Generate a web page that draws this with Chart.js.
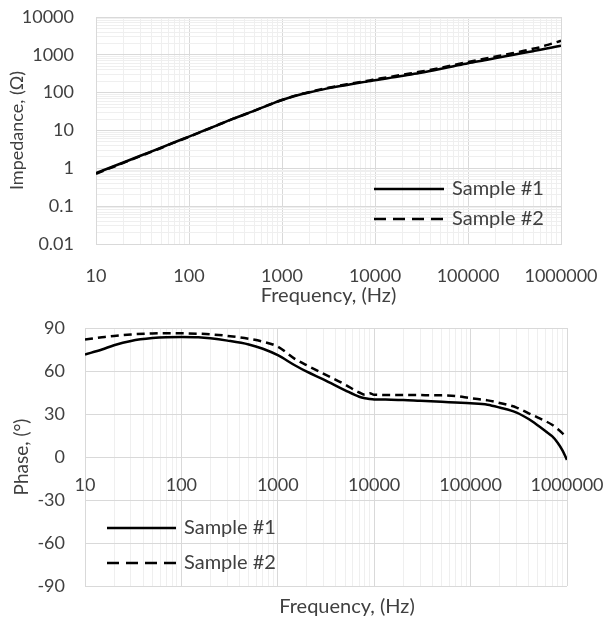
<!DOCTYPE html>
<html>
<head>
<meta charset="utf-8">
<script src="https://cdn.jsdelivr.net/npm/chart.js@4"></script>
<style>
  body { margin: 0; background: #fff; }
  .box { position: absolute; left: 0; }
</style>
</head>
<body>
<div class="box" style="top:0"><canvas id="impChart" width="604" height="310"></canvas></div>
<div class="box" style="top:305px"><canvas id="phaseChart" width="604" height="318"></canvas></div>
<script>
// frequencies in Hz
var freq = [10, 15, 20, 30, 50, 70, 100, 150, 200, 300, 500, 700, 1000, 1500, 2000, 3000, 5000, 7000, 8000, 9000,
            10000, 15000, 20000, 30000, 50000, 70000, 100000, 150000, 200000, 300000, 400000, 500000,
            600000, 700000, 800000, 900000, 1000000];

// impedance, ohm
var imp1 = [0.75, 1.1, 1.45, 2.15, 3.5, 4.9, 6.9, 10.3, 13.7, 20.5, 33, 46, 64, 87, 103, 128, 160, 185, 195, 204,
            213, 250, 280, 330, 420, 500, 600, 720, 820, 990, 1130, 1250, 1360, 1470, 1570, 1660, 1750];
var imp2 = [0.72, 1.07, 1.42, 2.1, 3.45, 4.85, 6.8, 10.2, 13.6, 20.5, 33, 46, 64, 88, 105, 131, 166, 192, 203, 213,
            225, 265, 300, 355, 450, 540, 650, 790, 900, 1100, 1280, 1450, 1590, 1800, 1980, 2170, 2350];

// phase, degrees
var phase1 = [71.5, 75, 78, 81, 83, 83.6, 83.7, 83.5, 82.8, 81.2, 78.5, 75.5, 71, 64, 59.5, 54, 46.5, 42, 41, 40.5,
              40.2, 40, 39.8, 39.2, 38.5, 38, 37.5, 36.5, 34.5, 31, 26.5, 22, 18, 14.5, 10, 4.5, -2];
var phase2 = [82, 83.5, 84.5, 85.5, 86.2, 86.4, 86.3, 86, 85.6, 84.5, 82.5, 80.5, 77, 68.5, 64, 58, 50.5, 45, 43.5, 44.5,
              43.4, 43.3, 43.3, 43.2, 43, 42.6, 41, 39.5, 37.7, 34.5, 30.5, 27.5, 25, 22.5, 19.5, 16.5, 13.5];

var names = ['Sample #1', 'Sample #2'];
var xTitle = 'Frequency, (Hz)';
var impTitle = 'Impedance, (\u03A9)';
var phaseTitle = 'Phase, (\u00B0)';

var textColor = '#404040';
var fontFamily = 'Lato, "Open Sans", sans-serif';
Chart.defaults.font.family = fontFamily;
Chart.defaults.font.size = 18;
Chart.defaults.color = textColor;

function pairs(ys) {
  return freq.map(function (f, i) { return { x: f, y: ys[i] }; });
}

function isPow10(v) {
  var l = Math.log10(v);
  return Math.abs(l - Math.round(l)) < 1e-9;
}

// ticks at 1..9 x 10^n, labels only on decades
function logTicks(scale) {
  var ticks = [];
  var lo = Math.round(Math.log10(scale.min)), hi = Math.round(Math.log10(scale.max));
  for (var e = lo; e <= hi; e++) {
    for (var m = 1; m <= 9; m++) {
      if (e === hi && m > 1) break;
      var v = parseFloat((m * Math.pow(10, e)).toPrecision(6));
      ticks.push({ value: v, major: m === 1 });
    }
  }
  scale.ticks = ticks;
}

function tickLabel(v) {
  return isPow10(v) ? String(v) : '';
}

function gridColor(c) {
  return c.tick && isPow10(c.tick.value) ? '#d9d9d9' : '#efefef';
}

// fixed axis size, and no extra padding pushed onto the chart area
function fixSize(w, h) {
  return function (s) {
    if (w != null) s.width = w;
    if (h != null) s.height = h;
    s.paddingTop = s.paddingBottom = s.paddingLeft = s.paddingRight = 0;
  };
}

function dataset(label, ys, dashed) {
  return {
    label: label,
    data: pairs(ys),
    borderColor: '#000',
    backgroundColor: '#000',
    borderWidth: 2.5,
    borderDash: dashed ? [8, 5] : [],
    pointRadius: 0,
    cubicInterpolationMode: 'monotone',
    fill: false
  };
}

// legend drawn inside the plot area
var innerLegend = {
  id: 'innerLegend',
  afterDatasetsDraw: function (chart, args, opts) {
    var ctx = chart.ctx;
    ctx.save();
    chart.data.datasets.forEach(function (ds, i) {
      var y = opts.y + i * opts.rowH;
      ctx.strokeStyle = ds.borderColor;
      ctx.lineWidth = ds.borderWidth;
      ctx.setLineDash(ds.borderDash.length ? [12, 7] : []);
      ctx.beginPath();
      ctx.moveTo(opts.x, y);
      ctx.lineTo(opts.x + opts.len, y);
      ctx.stroke();
      ctx.setLineDash([]);
      ctx.fillStyle = textColor;
      ctx.font = '20px ' + fontFamily;
      ctx.textBaseline = 'middle';
      ctx.textAlign = 'left';
      ctx.fillText(ds.label, opts.x + opts.len + 8, y);
    });
    ctx.restore();
  }
};

// the lower axis title sits a little right of centre
var shiftTitle = {
  id: 'shiftTitle',
  afterLayout: function (chart, args, opts) {
    var s = chart.scales[opts.scale];
    if (s) s.left += opts.dx * 2;
  }
};

new Chart(document.getElementById('impChart'), {
  type: 'line',
  data: {
    datasets: [dataset(names[0], imp1, false), dataset(names[1], imp2, true)]
  },
  plugins: [innerLegend],
  options: {
    responsive: false,
    animation: false,
    layout: { padding: { left: 0, right: 43, top: 17, bottom: 0 } },
    plugins: {
      legend: { display: false },
      tooltip: { enabled: false },
      innerLegend: { x: 374, y: 189, rowH: 30, len: 70 }
    },
    scales: {
      x: {
        type: 'logarithmic',
        min: 10, max: 1000000,
        afterBuildTicks: logTicks,
        afterFit: fixSize(null, 66),
        ticks: { callback: tickLabel, autoSkip: false, maxRotation: 0, padding: 21 },
        grid: { color: gridColor, drawTicks: false },
        border: { color: '#d9d9d9' },
        title: { display: true, text: xTitle, font: { size: 20 }, padding: { top: 0, bottom: 2 } }
      },
      y: {
        type: 'logarithmic',
        min: 0.01, max: 10000,
        afterBuildTicks: logTicks,
        afterFit: fixSize(96, null),
        ticks: { callback: tickLabel, autoSkip: false, padding: 22 },
        grid: { color: gridColor, drawTicks: false },
        border: { color: '#d9d9d9' },
        title: { display: true, text: impTitle, padding: { top: 6, bottom: 0 } }
      }
    }
  }
});

new Chart(document.getElementById('phaseChart'), {
  type: 'line',
  data: {
    datasets: [dataset(names[0], phase1, false), dataset(names[1], phase2, true)]
  },
  plugins: [innerLegend, shiftTitle],
  options: {
    responsive: false,
    animation: false,
    layout: { padding: { left: 0, right: 37, top: 23, bottom: 0 } },
    plugins: {
      legend: { display: false },
      tooltip: { enabled: false },
      innerLegend: { x: 107, y: 223, rowH: 35, len: 69 },
      shiftTitle: { scale: 'xTitle', dx: 21 }
    },
    scales: {
      x: {
        type: 'logarithmic',
        position: { y: 0 },
        min: 10, max: 1000000,
        afterBuildTicks: logTicks,
        afterFit: fixSize(null, null),
        ticks: { callback: tickLabel, autoSkip: false, maxRotation: 0, padding: 17 },
        grid: { color: gridColor, drawTicks: false },
        border: { color: '#d9d9d9' }
      },
      xTitle: {
        type: 'logarithmic',
        position: 'bottom',
        min: 10, max: 1000000,
        afterFit: fixSize(null, 37),
        ticks: { display: false },
        grid: { display: false, drawTicks: false },
        border: { display: false },
        title: { display: true, text: xTitle, font: { size: 20 }, padding: { top: 0, bottom: 4 } }
      },
      y: {
        min: -90, max: 90,
        ticks: { stepSize: 30, padding: 20 },
        afterFit: fixSize(85, null),
        grid: { color: '#d9d9d9', drawTicks: false },
        border: { color: '#d9d9d9' },
        title: { display: true, text: phaseTitle, font: { size: 19 }, padding: { top: 10, bottom: 0 } }
      }
    }
  }
});
</script>
</body>
</html>
